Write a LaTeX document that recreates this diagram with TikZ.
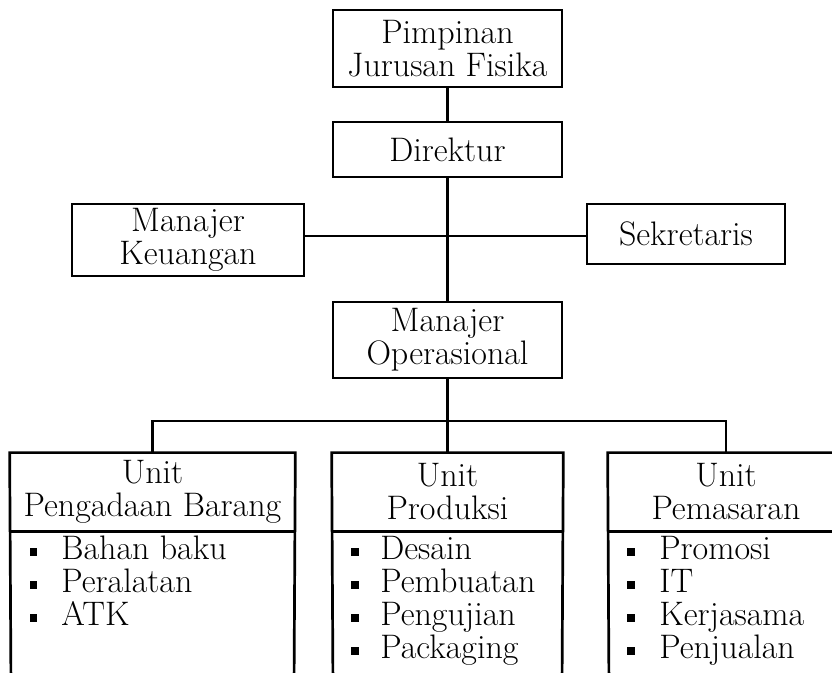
\documentclass[tikz,border=0pt]{standalone}
\begin{document}
\begin{tikzpicture}[x=0.5pt,y=-0.5pt, line width=1.35pt,
  txt/.style={font=\fontsize{17}{16.5}\selectfont},
  box/.style={draw, inner sep=0pt, align=center, txt},
  head/.style={inner sep=0pt, align=center, txt},
  item/.style={anchor=base west, inner sep=0pt, txt},
  bul/.style={fill, draw=none, inner sep=0pt, minimum width=3.8pt, minimum height=4.4pt}]
\useasboundingbox (0,0) rectangle (832,673);
\clip (0,0) rectangle (832,673);

% upper boxes
\node[box, minimum width=114.5pt, minimum height=38.5pt] (pim) at (447.5,48.5) {Pimpinan\\Jurusan Fisika};
\node[box, minimum width=114.5pt, minimum height=27.5pt] (dir) at (447.5,149.5) {Direktur};
\node[box, minimum width=116pt, minimum height=36pt] (keu) at (188,240) {Manajer\\Keuangan};
\node[box, minimum width=99pt, minimum height=30pt] (sek) at (686,234) {Sekretaris};
\node[box, minimum width=114.5pt, minimum height=38pt] (ops) at (447.5,340) {Manajer\\Operasional};

% unit headers
\node[head, minimum width=141.5pt, minimum height=38pt] (u1) at (152.5,492) {Unit\\Pengadaan Barang};
\node[head, minimum width=114.5pt, minimum height=38pt] (u2) at (447.5,492) {Unit\\Produksi};
\node[head, minimum width=117pt, minimum height=38pt] (u3) at (726,492) {Unit\\Pemasaran};

% open-bottomed unit boxes
\coordinate (u1l) at (11,690);  \coordinate (u1r) at (294,690);
\coordinate (u2l) at (333,690); \coordinate (u2r) at (562,690);
\coordinate (u3l) at (609,690); \coordinate (u3r) at (843,690);
\draw (u1l) -- (u1.north west) -- (u1.north east) -- (u1r);
\draw (u1.south west) -- (u1.south east);
\draw (u2l) -- (u2.north west) -- (u2.north east) -- (u2r);
\draw (u2.south west) -- (u2.south east);
\draw (u3l) -- (u3.north west) -- (u3.north east) -- (u3r);
\draw (u3.south west) -- (u3.south east);

% connectors
\coordinate (mid) at (447.5,236);
\coordinate (bus) at (447.5,421);
\draw (pim) -- (dir);
\draw (dir) -- (ops);
\draw (keu.east |- mid) -- (sek.west |- mid);
\draw (ops) -- (bus);
\draw (u1.north) |- (bus) -| (u3.north);
\draw (bus) -- (u2.north);

% list items: Unit Pengadaan Barang
\node[bul] (b11) at (33.5,552) {};
\node[item] (t11) at (60,560) {Bahan baku};
\node[bul] (b12) at (33.5,585) {};
\node[item] (t12) at (60,593) {Peralatan};
\node[bul] (b13) at (33.5,618) {};
\node[item] (t13) at (60,626) {ATK};

% Unit Produksi
\node[bul] (b21) at (355,552) {};
\node[item] (t21) at (379,560) {Desain};
\node[bul] (b22) at (355,585) {};
\node[item] (t22) at (379,593) {Pembuatan};
\node[bul] (b23) at (355,618) {};
\node[item] (t23) at (379,626) {Pengujian};
\node[bul] (b24) at (355,651) {};
\node[item] (t24) at (379,659) {Packaging};

% Unit Pemasaran
\node[bul] (b31) at (631,552) {};
\node[item] (t31) at (658,560) {Promosi};
\node[bul] (b32) at (631,585) {};
\node[item] (t32) at (658,593) {IT};
\node[bul] (b33) at (631,618) {};
\node[item] (t33) at (658,626) {Kerjasama};
\node[bul] (b34) at (631,651) {};
\node[item] (t34) at (658,659) {Penjualan};
\end{tikzpicture}
\end{document}
